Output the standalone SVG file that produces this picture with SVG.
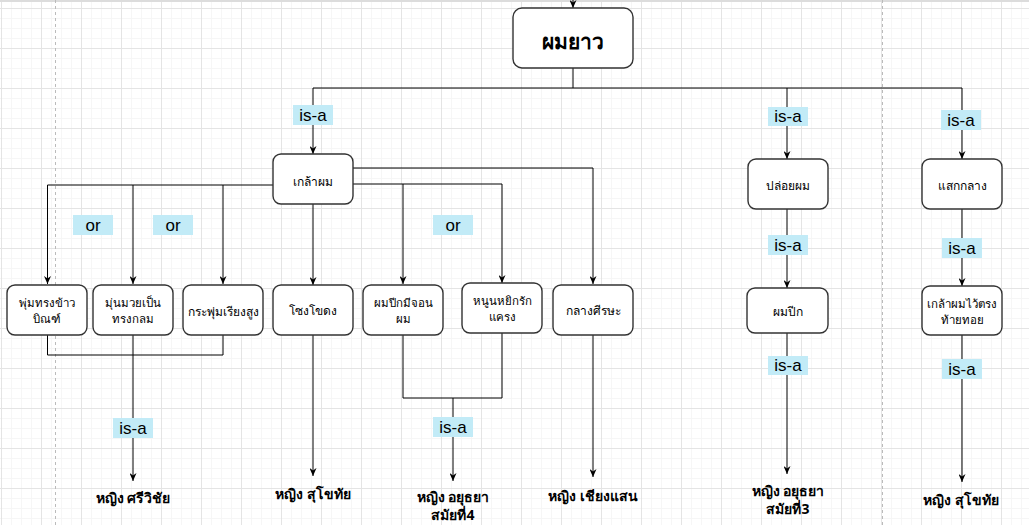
<svg xmlns="http://www.w3.org/2000/svg" width="1029" height="525" viewBox="0 0 1029 525">
<style>
.node rect{fill:#fff;stroke:#333;stroke-width:1.4}
.t{font-family:"Noto Sans","DejaVu Sans",sans-serif;font-size:12px;fill:#000;text-anchor:middle;dominant-baseline:central}
.t2{font-size:11.5px}
.big{font-size:21px;font-weight:bold}
.lbl rect{fill:#c2ebf7}
.lbl text{font-family:"Liberation Sans",Arial,sans-serif;font-size:17px;fill:#000;text-anchor:middle;dominant-baseline:central}
.leaf text{font-family:"Noto Sans","DejaVu Sans",sans-serif;font-size:14px;font-weight:bold;fill:#000;text-anchor:middle;dominant-baseline:central}
.c path{fill:none;stroke:#000;stroke-width:1}
.c path.a{marker-end:url(#arr)}
</style>
<defs>
<pattern id="grid" width="40" height="40" patternUnits="userSpaceOnUse" x="1" y="8">
<path d="M10.5 0V40M20.5 0V40M30.5 0V40M0 10.5H40M0 20.5H40M0 30.5H40" stroke="#f6f6f6" fill="none"/>
<path d="M0.5 0V40M0 0.5H40" stroke="#e4e4e4" fill="none"/>
</pattern>
<marker id="arr" viewBox="0 0 10 10" refX="10" refY="5" markerWidth="8" markerHeight="7" markerUnits="userSpaceOnUse" orient="auto" preserveAspectRatio="none">
<path d="M0,0 L10,5 L0,10 L3,5 z" fill="#000"/>
</marker>
</defs>
<g id="background">
<rect width="1029" height="525" fill="#fff"/>
<rect width="1029" height="525" fill="url(#grid)"/>
<rect width="1029" height="2" fill="#dcdcdc"/>
<path d="M55.5 0V525M882.5 0V525" stroke="#bbb" stroke-dasharray="3,3" fill="none"/>
</g>
<g id="connectors" class="c">
<path class="a" d="M573 0V8"/>
<path d="M573 68V88M313 88H962"/>
<path class="a" d="M313 88V154"/>
<path class="a" d="M787 88V159"/>
<path class="a" d="M962 88V159"/>
<path class="a" d="M273 185H47.5V284"/>
<path class="a" d="M133 185V284"/>
<path class="a" d="M223 185V284"/>
<path class="a" d="M313 204V285"/>
<path class="a" d="M353 184H502V283"/>
<path class="a" d="M403 184V284"/>
<path class="a" d="M353 168H593V284"/>
<path d="M47.5 335V355H223V335"/>
<path class="a" d="M133 335V481"/>
<path class="a" d="M313 335V476" style="stroke:#555;stroke-width:1.5"/>
<path d="M403 335V398H502V333"/>
<path class="a" d="M453 398V481"/>
<path class="a" d="M593 335V477"/>
<path class="a" d="M787 209V288"/>
<path class="a" d="M787 333V474"/>
<path class="a" d="M962 209V286"/>
<path class="a" d="M962 335V482"/>
</g>
<g id="labels" class="lbl">
<rect x="293" y="105" width="40" height="20"/><text x="313" y="115">is-a</text>
<rect x="768" y="107" width="40" height="19"/><text x="788" y="116.5">is-a</text>
<rect x="941" y="110" width="40" height="20"/><text x="961" y="120">is-a</text>
<rect x="73" y="215" width="40" height="20"/><text x="93" y="225">or</text>
<rect x="153" y="215" width="40" height="20"/><text x="173" y="225">or</text>
<rect x="433" y="215" width="40" height="20"/><text x="453" y="225">or</text>
<rect x="768" y="235" width="40" height="20"/><text x="788" y="245">is-a</text>
<rect x="942" y="238" width="40" height="20"/><text x="962" y="248">is-a</text>
<rect x="768" y="356" width="40" height="19"/><text x="788" y="365.5">is-a</text>
<rect x="942" y="359" width="40" height="20"/><text x="962" y="369">is-a</text>
<rect x="113" y="418" width="40" height="20"/><text x="133" y="428">is-a</text>
<rect x="433" y="417" width="40" height="20"/><text x="453" y="427">is-a</text>
</g>
<g id="n-root" class="node"><rect x="513" y="8" width="120" height="60" rx="9"/><text class="t big" x="573" y="41">ผมยาว</text></g>
<g id="n-klao" class="node"><rect x="273" y="154" width="80" height="50" rx="8"/><text class="t" x="313" y="181">เกล้าผม</text></g>
<g id="n-ploi" class="node"><rect x="748" y="159" width="80" height="50" rx="8"/><text class="t" x="788" y="185">ปล่อยผม</text></g>
<g id="n-saek" class="node"><rect x="922" y="159" width="80" height="50" rx="8"/><text class="t" x="962" y="185">แสกกลาง</text></g>
<g id="n-phum" class="node"><rect x="7" y="285" width="80" height="50" rx="8"/><text class="t t2" x="47" y="302">พุ่มทรงข้าว</text><text class="t t2" x="47" y="318">บิณฑ์</text></g>
<g id="n-mun" class="node"><rect x="93" y="285" width="80" height="50" rx="8"/><text class="t t2" x="133" y="302">มุ่นมวยเป็น</text><text class="t t2" x="133" y="318">ทรงกลม</text></g>
<g id="n-kraphum" class="node"><rect x="183" y="285" width="80" height="50" rx="8"/><text class="t" x="223" y="311">กระพุ่มเรียงสูง</text></g>
<g id="n-song" class="node"><rect x="273" y="285" width="80" height="50" rx="8"/><text class="t" x="313" y="310">โซงโขดง</text></g>
<g id="n-pik-jon" class="node"><rect x="363" y="285" width="80" height="50" rx="8"/><text class="t t2" x="403" y="302">ผมปีกมีจอน</text><text class="t t2" x="403" y="318">ผม</text></g>
<g id="n-noon" class="node"><rect x="462" y="283" width="80" height="50" rx="8"/><text class="t t2" x="502" y="300">หนูนหยิกรัก</text><text class="t t2" x="502" y="316">แครง</text></g>
<g id="n-klang" class="node"><rect x="553" y="285" width="80" height="50" rx="8"/><text class="t" x="593" y="310">กลางศีรษะ</text></g>
<g id="n-pik" class="node"><rect x="747" y="288" width="81" height="45" rx="8"/><text class="t" x="788" y="311">ผมปีก</text></g>
<g id="n-thaitoi" class="node"><rect x="922" y="286" width="80" height="49" rx="8"/><text class="t t2" x="962" y="303">เกล้าผมไว้ตรง</text><text class="t t2" x="962" y="319">ท้ายทอย</text></g>
<g id="leaf-sri" class="leaf"><text x="133" y="497">หญิง ศรีวิชัย</text></g>
<g id="leaf-sukho1" class="leaf"><text x="313" y="493">หญิง สุโขทัย</text></g>
<g id="leaf-ayu4" class="leaf"><text x="453" y="496">หญิง อยุธยา</text><text x="453" y="514">สมัยที่4</text></g>
<g id="leaf-chiang" class="leaf"><text x="593" y="495">หญิง เชียงแสน</text></g>
<g id="leaf-ayu3" class="leaf"><text x="788" y="490">หญิง อยุธยา</text><text x="788" y="508">สมัยที่3</text></g>
<g id="leaf-sukho2" class="leaf"><text x="961" y="499">หญิง สุโขทัย</text></g>
</svg>
